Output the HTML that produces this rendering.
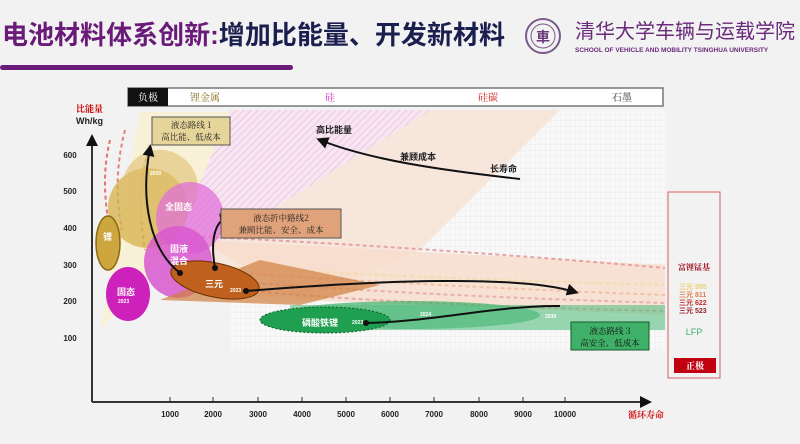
<!DOCTYPE html>
<html><head><meta charset="utf-8"><style>
html,body{margin:0;padding:0;width:800px;height:444px;overflow:hidden;background:#f2f2f2}
svg{display:block}
text{font-family:"Liberation Sans","Noto Sans CJK SC",sans-serif}
.s{font-family:"Noto Serif CJK SC","Liberation Serif",serif}
</style></head><body>
<svg width="800" height="444" viewBox="0 0 800 444" xmlns="http://www.w3.org/2000/svg">
<defs>
<pattern id="hp" width="5" height="5" patternUnits="userSpaceOnUse" patternTransform="rotate(45)"><rect width="5" height="5" fill="#f7e6f3"/><line x1="0" y1="0" x2="0" y2="5" stroke="#e8b8de" stroke-width="1.5"/></pattern>
<pattern id="grid" width="5" height="6" patternUnits="userSpaceOnUse"><rect width="5" height="6" fill="#f8f8f8"/><path d="M0 0V6M0 0H5" stroke="#e4e4e4" stroke-width="0.6"/></pattern>
<marker id="ar" markerWidth="6" markerHeight="6" refX="4" refY="3" orient="auto"><path d="M0,0 L6,3 L0,6z" fill="#111"/></marker>
</defs>
<text x="2" y="44" font-size="26" font-weight="bold" fill="#6a1a78" textLength="503" lengthAdjust="spacingAndGlyphs">电池材料体系创新:<tspan fill="#1b1f4f">增加比能量、开发新材料</tspan></text>
<rect x="0" y="65" width="293" height="5" rx="2.5" fill="#6a1a78"/>
<circle cx="543" cy="36" r="17" fill="none" stroke="#7a5a8a" stroke-width="2"/>
<circle cx="543" cy="36" r="12" fill="none" stroke="#7a5a8a" stroke-width="1"/>
<text x="543" y="42" font-size="14" font-weight="bold" fill="#6a3a7a" text-anchor="middle">車</text>
<text x="575" y="38" font-size="20" fill="#6a2a7a">清华大学车辆与运载学院</text>
<text x="575" y="52" font-size="6.5" font-weight="bold" fill="#6a2a7a">SCHOOL OF VEHICLE AND MOBILITY TSINGHUA UNIVERSITY</text>
<rect x="230" y="110" width="435" height="240" fill="url(#grid)"/>
<path d="M140 112 L300 112 L100 330 Z" fill="#f8f0d4" opacity="0.9"/>
<path d="M230 110 L560 110 L420 250 L300 300 L160 290 Z" fill="#f6e6dc"/>
<path d="M230 110 L430 110 L160 280 Z" fill="url(#hp)" opacity="0.9"/>
<path d="M200 240 L665 265 L665 315 L300 300 Z" fill="#f8dccb" opacity="0.8"/>
<g stroke-dasharray="4 3" stroke-width="2" fill="none">
<path d="M160 235 Q400 245 665 268" stroke="#e7a3a3"/>
<path d="M200 265 Q400 278 665 285" stroke="#f5dcb0"/>
<path d="M200 270 Q400 285 665 295" stroke="#f0c2a8"/>
<path d="M220 280 Q400 295 665 303" stroke="#eab0b0"/>
<path d="M240 290 Q400 305 665 311" stroke="#e6a8a8"/>
<path d="M110 140 Q100 180 110 230" stroke="#e57070"/>
<path d="M125 130 Q112 180 122 230" stroke="#e58080"/>
<path d="M150 145 Q135 190 145 250" stroke="#e8a070"/>
</g>
<rect x="128" y="88" width="535" height="18" fill="#fff" stroke="#777" stroke-width="1.5"/>
<rect x="128" y="88" width="40" height="18" fill="#111"/>
<text x="148" y="101" font-size="10" fill="#fff" text-anchor="middle" class="s">负极</text>
<text x="205" y="101" font-size="10" fill="#8a7020" text-anchor="middle" class="s">锂金属</text>
<text x="330" y="101" font-size="10" fill="#d030c0" text-anchor="middle" class="s">硅</text>
<text x="488" y="101" font-size="10" fill="#d02020" text-anchor="middle" class="s">硅碳</text>
<text x="622" y="101" font-size="10" fill="#333" text-anchor="middle" class="s">石墨</text>
<ellipse cx="148" cy="208" rx="40" ry="40" fill="#d7b24a" opacity="0.75"/>
<ellipse cx="160" cy="188" rx="38" ry="38" fill="#e0c070" opacity="0.6"/>
<ellipse cx="190" cy="218" rx="34" ry="36" fill="#e070d8" opacity="0.75"/>
<ellipse cx="178" cy="262" rx="34" ry="36" fill="#d858d0" opacity="0.85"/>
<ellipse cx="108" cy="243" rx="12" ry="27" fill="#cda640" stroke="#8a6a10" stroke-width="1.5"/>
<ellipse cx="128" cy="294" rx="22" ry="27" fill="#cc22bb"/>
<path d="M160 300 L260 260 L380 285 L300 305 Z" fill="#d07f40" opacity="0.7"/>
<ellipse cx="215" cy="280" rx="45" ry="17" fill="#c0601e" stroke="#6a3000" stroke-width="1" transform="rotate(12 215 280)"/>
<ellipse cx="410" cy="315" rx="130" ry="14" fill="#3fb068" opacity="0.7"/>
<path d="M290 305 L665 305 L665 330 L290 330 Z" fill="#58c083" opacity="0.6"/>
<ellipse cx="325" cy="320" rx="65" ry="13" fill="#1fa050" stroke="#0a5a2a" stroke-dasharray="2 2"/>
<g font-size="9" font-weight="bold" fill="#fff" class="s">
<text x="103" y="240">锂</text><text x="170" y="252">固液</text><text x="170" y="264">混合</text>
<text x="165" y="210">全固态</text><text x="117" y="295">固态</text><text x="205" y="287">三元</text>
<text x="302" y="326">磷酸铁锂</text>
</g>
<g font-size="5" fill="#fff" font-weight="bold"><text x="118" y="303">2023</text><text x="150" y="175">2030</text><text x="230" y="292">2023</text><text x="352" y="324">2023</text><text x="420" y="316">2024</text><text x="545" y="318">2030</text></g>
<g stroke="#111" stroke-width="2" fill="none">
<path d="M180 273 C150 250 140 200 150 148" marker-end="url(#ar)"/>
<path d="M215 268 C210 240 215 220 228 218" marker-end="url(#ar)"/>
<path d="M246 291 C380 280 520 275 575 292" marker-end="url(#ar)"/>
<path d="M366 323 C430 322 500 305 560 306" />
<path d="M520 179 C440 170 370 160 320 140" marker-end="url(#ar)"/>
</g>
<g fill="#111"><circle cx="180" cy="273" r="3"/><circle cx="215" cy="268" r="3"/><circle cx="246" cy="291" r="3"/><circle cx="366" cy="323" r="3"/></g>
<g font-size="9" fill="#222" class="s" font-weight="bold">
<text x="316" y="133">高比能量</text><text x="400" y="160">兼顾成本</text><text x="490" y="172">长寿命</text>
</g>
<rect x="152" y="117" width="78" height="28" fill="#e6d59a" stroke="#555"/>
<text x="191" y="128" font-size="8.5" text-anchor="middle" class="s" fill="#222">液态路线 1</text>
<text x="191" y="140" font-size="8.5" text-anchor="middle" class="s" fill="#222">高比能、低成本</text>
<rect x="221" y="209" width="120" height="29" fill="#e0a27a" stroke="#555"/>
<text x="281" y="221" font-size="8.5" text-anchor="middle" class="s" fill="#222">液态折中路线2</text>
<text x="281" y="233" font-size="8.5" text-anchor="middle" class="s" fill="#222">兼顾比能、安全、成本</text>
<rect x="571" y="322" width="78" height="28" fill="#3fb068" stroke="#1a5a2a"/>
<text x="610" y="334" font-size="8.5" text-anchor="middle" class="s" fill="#111">液态路线 3</text>
<text x="610" y="346" font-size="8.5" text-anchor="middle" class="s" fill="#111">高安全、低成本</text>
<line x1="92" y1="402" x2="92" y2="138" stroke="#333" stroke-width="2" marker-end="url(#ar)"/>
<line x1="92" y1="402" x2="648" y2="402" stroke="#333" stroke-width="2" marker-end="url(#ar)"/>
<text x="76" y="112" font-size="9" fill="#c00" font-weight="bold" class="s">比能量</text>
<text x="76" y="124" font-size="9" fill="#222" font-weight="bold">Wh/kg</text>
<g font-size="8" font-weight="bold" fill="#222" text-anchor="middle">
<text x="70" y="158">600</text><text x="70" y="194">500</text><text x="70" y="231">400</text><text x="70" y="268">300</text><text x="70" y="304">200</text><text x="70" y="341">100</text>
<text x="170" y="417">1000</text><text x="213" y="417">2000</text><text x="258" y="417">3000</text><text x="302" y="417">4000</text><text x="346" y="417">5000</text><text x="390" y="417">6000</text><text x="434" y="417">7000</text><text x="479" y="417">8000</text><text x="523" y="417">9000</text><text x="565" y="417">10000</text>
</g>
<g stroke="#333" stroke-width="1"><path d="M170 397V402M213 397V402M258 397V402M302 397V402M346 397V402M390 397V402M434 397V402M479 397V402M523 397V402M565 397V402"/></g>
<text x="628" y="418" font-size="9" fill="#d01010" font-weight="bold" class="s">循环寿命</text>
<rect x="668" y="192" width="52" height="186" fill="none" stroke="#d06060" stroke-width="1"/>
<text x="694" y="270" font-size="8" fill="#a01020" font-weight="bold" text-anchor="middle" class="s">富锂锰基</text>
<g font-size="7" font-weight="bold">
<text x="679" y="289" fill="#f0d070">三元 955</text>
<text x="679" y="297" fill="#e08050">三元 811</text>
<text x="679" y="305" fill="#c03030">三元 622</text>
<text x="679" y="313" fill="#a02030">三元 523</text>
</g>
<text x="694" y="335" font-size="9" fill="#3fb068" text-anchor="middle">LFP</text>
<rect x="674" y="358" width="42" height="15" fill="#c00010"/>
<text x="695" y="369" font-size="9" fill="#fff" text-anchor="middle" font-weight="bold" class="s">正极</text>
</svg>
</body></html>
